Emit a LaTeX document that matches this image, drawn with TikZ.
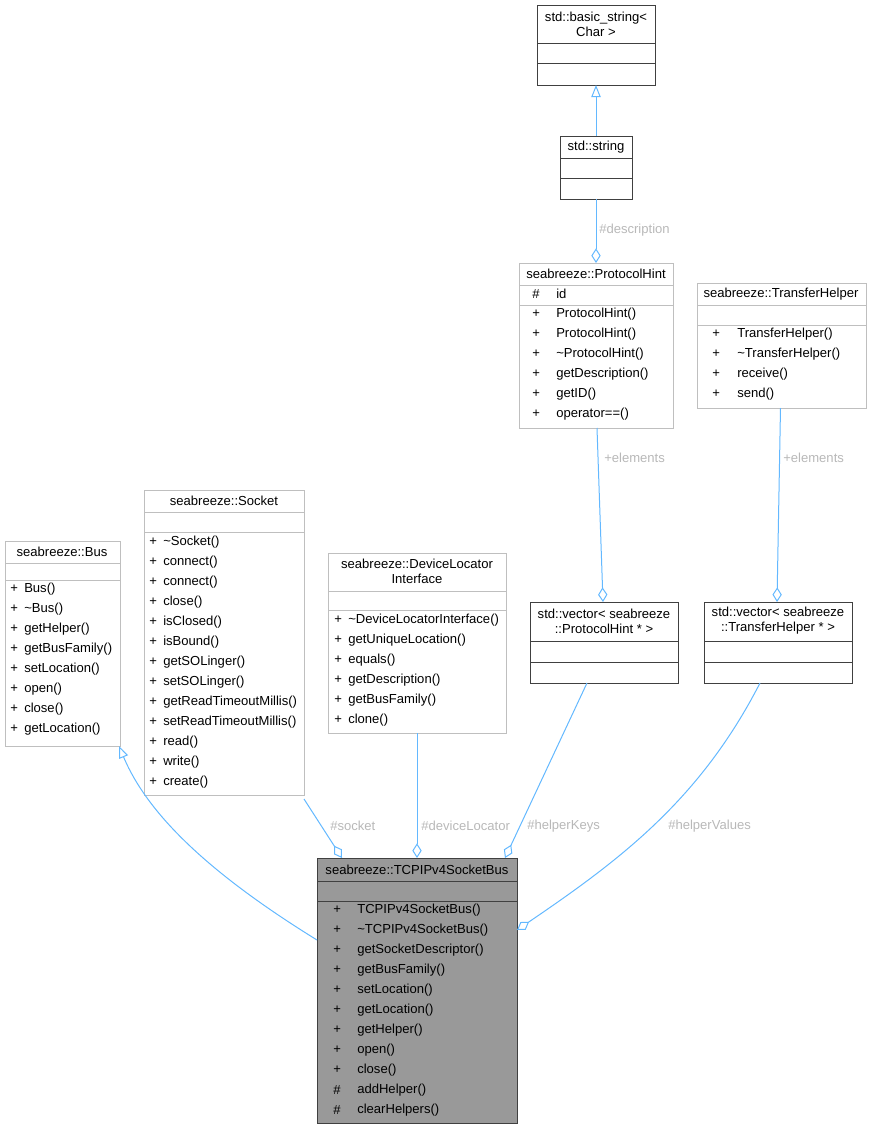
\documentclass[tikz,border=0pt]{standalone}
\usepackage{fontspec}
\setmainfont{Liberation Sans}
\usetikzlibrary{arrows.meta}
\definecolor{edgec}{HTML}{63B8FF}
\definecolor{lblc}{HTML}{B8B8B8}
\definecolor{lightb}{HTML}{BFBFBF}
\definecolor{darkb}{HTML}{404040}
\newcommand{\fs}{\fontsize{9.8pt}{11.4pt}\selectfont}
\newcommand{\cbox}[6]{\node[#6, minimum width={(#4-#2)*0.75pt}, minimum height={(#5-#3)*0.75pt}] (#1) at ({(#2+#4)/2},{(#3+#5)/2}) {};}
\newcommand{\sep}[4]{\draw[#4] (#1,#3) -- (#2,#3);}
\tikzset{
 lb/.style={draw=lightb, fill=white, inner sep=0, outer sep=0, line width=0.75pt},
 db/.style={draw=darkb, fill=white, inner sep=0, outer sep=0, line width=0.75pt},
 gb/.style={draw=darkb, fill=black!40, inner sep=0, outer sep=0, line width=0.75pt},
 lsep/.style={draw=lightb, line width=0.75pt},
 dsep/.style={draw=darkb, line width=0.75pt},
 txt/.style={font=\fs, inner sep=0, anchor=west},
 ctxt/.style={font=\fs, inner sep=0, align=center},
 lbl/.style={font=\fs, text=lblc, inner sep=0, anchor=west},
 edge/.style={draw=edgec, line width=0.75pt},
 inh/.style={edge, -{Triangle[open, length=9pt, width=7pt]}},
 agg/.style={edge, -{Diamond[open, length=11pt, width=7pt]}}
}
\begin{document}
\begin{tikzpicture}[x=0.75pt, y=-0.75pt]
\useasboundingbox (0,0) rectangle (871,1129);
% basic_string
\cbox{bstr}{537}{5}{655}{85}{db}
\sep{537}{655}{43}{dsep}\sep{537}{655}{63}{dsep}
\node[ctxt] (bstrt) at (596,24) {std::basic\_string<\\Char >};
% std::string
\cbox{str}{560}{136}{632}{199}{db}
\sep{560}{632}{158}{dsep}\sep{560}{632}{178}{dsep}
\node[ctxt] (strt) at (596,147) {std::string};
% ProtocolHint
\cbox{ph}{519}{263}{673}{428}{lb}
\sep{519}{673}{285}{lsep}\sep{519}{673}{305}{lsep}
\node[ctxt] (pht) at (596,274) {seabreeze::ProtocolHint};
\node[txt] (phid0) at (532,294) {\#};
\node[txt] (phid) at (556,294) {id};
\foreach \t [count=\i] in {ProtocolHint(),ProtocolHint(),\textasciitilde ProtocolHint(),getDescription(),getID(),operator==()}{
 \node[txt] (php\i) at (532,{294+20*\i}) {+};
 \node[txt] (phm\i) at (556,{294+20*\i}) {\t};}
% TransferHelper
\cbox{th}{697}{283}{866}{408}{lb}
\sep{697}{866}{305}{lsep}\sep{697}{866}{325}{lsep}
\node[ctxt] (tht) at (781,294) {seabreeze::TransferHelper};
\foreach \t [count=\i] in {TransferHelper(),\textasciitilde TransferHelper(),receive(),send()}{
 \node[txt] (thp\i) at (712,{314+20*\i}) {+};
 \node[txt] (thm\i) at (737,{314+20*\i}) {\t};}
% Bus
\cbox{bus}{5}{541}{120}{746}{lb}
\sep{5}{120}{563}{lsep}\sep{5}{120}{580}{lsep}
\node[ctxt] (bust) at (62,552) {seabreeze::Bus};
\foreach \t [count=\i] in {Bus(),\textasciitilde Bus(),getHelper(),getBusFamily(),setLocation(),open(),close(),getLocation()}{
 \node[txt] (busp\i) at (10,{569+20*\i}) {+};
 \node[txt] (busm\i) at (24,{569+20*\i}) {\t};}
% Socket
\cbox{sock}{144}{490}{304}{795}{lb}
\sep{144}{304}{512}{lsep}\sep{144}{304}{532}{lsep}
\node[ctxt] (sockt) at (224,501) {seabreeze::Socket};
\foreach \t [count=\i] in {\textasciitilde Socket(),connect(),connect(),close(),isClosed(),isBound(),getSOLinger(),setSOLinger(),getReadTimeoutMillis(),setReadTimeoutMillis(),read(),write(),create()}{
 \node[txt] (sockp\i) at (149,{522+20*\i}) {+};
 \node[txt] (sockm\i) at (163,{522+20*\i}) {\t};}
% DeviceLocatorInterface
\cbox{dli}{328}{553}{506}{733}{lb}
\sep{328}{506}{591}{lsep}\sep{328}{506}{610}{lsep}
\node[ctxt] (dlit) at (417,571) {seabreeze::DeviceLocator\\Interface};
\foreach \t [count=\i] in {\textasciitilde DeviceLocatorInterface(),getUniqueLocation(),equals(),getDescription(),getBusFamily(),clone()}{
 \node[txt] (dlip\i) at (334,{600+20*\i}) {+};
 \node[txt] (dlim\i) at (348,{600+20*\i}) {\t};}
% vector PH
\cbox{vph}{530}{602}{678}{683}{db}
\sep{530}{678}{641}{dsep}\sep{530}{678}{662}{dsep}
\node[ctxt] (vpht) at (604,621) {std::vector< seabreeze\\::ProtocolHint * >};
% vector TH
\cbox{vth}{704}{602}{852}{683}{db}
\sep{704}{852}{641}{dsep}\sep{704}{852}{662}{dsep}
\node[ctxt] (vtht) at (778,621) {std::vector< seabreeze\\::TransferHelper * >};
% TCPIPv4SocketBus
\cbox{tcp}{317}{858}{517}{1123}{gb}
\sep{317}{517}{881}{dsep}\sep{317}{517}{901}{dsep}
\node[ctxt] (tcpt) at (417,870) {seabreeze::TCPIPv4SocketBus};
\foreach \t/\v [count=\i] in {TCPIPv4SocketBus()/+,\textasciitilde TCPIPv4SocketBus()/+,getSocketDescriptor()/+,getBusFamily()/+,setLocation()/+,getLocation()/+,getHelper()/+,open()/+,close()/+,addHelper()/\#,clearHelpers()/\#}{
 \node[txt] (tcpp\i) at (333,{890+20*\i}) {\v};
 \node[txt] (tcpm\i) at (357,{890+20*\i}) {\t};}
% edges
\draw[inh] (str.north -| bstrt) -- (bstr.south -| bstrt);
\draw[agg] (str.south -| bstrt) -- (ph.north -| bstrt);
\node[lbl] (ldesc) at (599,230) {\#description};
\draw[agg] ([xshift=0.75pt]ph.south) -- ([xshift=-0.75pt]vph.north);
\node[lbl] (lel1) at (604,458) {+elements};
\draw[agg] ([xshift=-0.75pt]th.south) -- ([xshift=-0.75pt]vth.north);
\node[lbl] (lel2) at (783,458) {+elements};
\draw[inh] ([yshift=-61.5pt]tcp.north west) .. controls (220,880) and (150,820) .. ([xshift=-0.75pt]bus.south east);
\draw[agg] ([yshift=-3pt]sock.south east) -- ([xshift=18.75pt]tcp.north west);
\node[lbl] (lsock) at (330,826) {\#socket};
\draw[agg] (dli.south) -- ([yshift=0pt]tcp.north);
\node[lbl] (ldl) at (421,826) {\#deviceLocator};
\draw[agg] ([xshift=-12.75pt]vph.south) -- ([xshift=-9pt]tcp.north east);
\node[lbl] (lhk) at (527,826) {\#helperKeys};
\draw[agg] ([xshift=-13.5pt]vth.south) .. controls (700,800) and (620,860) .. ([yshift=-54pt]tcp.north east);
\node[lbl] (lhv) at (668,826) {\#helperValues};
\end{tikzpicture}
\end{document}
